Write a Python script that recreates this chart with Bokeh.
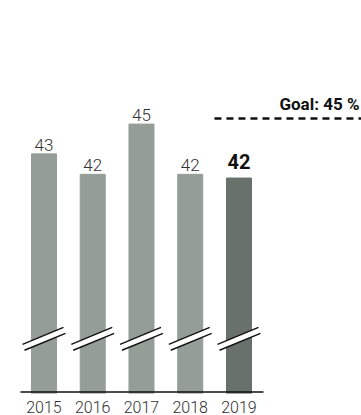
from bokeh.plotting import figure
from bokeh.models import ColumnDataSource, Range1d, FixedTicker
from bokeh.core.properties import value
from bokeh.embed import file_html
from bokeh.resources import INLINE

years = ["2015", "2016", "2017", "2018", "2019"]
values = [43.1, 42.0, 44.7, 42.0, 41.8]
labels = ["43", "42", "45", "42", "42"]
goal = 45
goal_label = "Goal: 45 %"

LIGHT = "#959e96"
DARK = "#68726a"

xs = list(range(len(years)))
colors = [LIGHT] * (len(years) - 1) + [DARK]

y0 = 30.22
p = figure(width=361, height=415, output_backend="svg", toolbar_location=None,
           x_range=Range1d(-0.892, 6.513), y_range=Range1d(y0, y0 + 395 / 18.7),
           min_border_left=0, min_border_right=0, min_border_top=0, min_border_bottom=20)
p.outline_line_color = None
p.grid.visible = False
p.yaxis.visible = False
p.background_fill_color = "white"
p.border_fill_color = "white"

src = ColumnDataSource(dict(x=xs, top=values, color=colors, label=labels))
p.vbar(x="x", top="top", bottom=y0, width=0.513, color="color", source=src)

# axis break marks
base = y0 + 1.5 / 18.7
brk = 33.16
dx, dy, gap, sh = 0.42, 0.455, 0.32, 0.04
px_, py_ = [], []
x0s, y0s, x1s, y1s = [], [], [], []
for x in xs:
    c = x - 0.02
    px_.append([c - dx, c + dx, c + dx + sh, c - dx + sh])
    py_.append([brk + gap / 2 - dy, brk + gap / 2 + dy, brk - gap / 2 + dy, brk - gap / 2 - dy])
    x0s += [c - dx, c - dx + sh]
    y0s += [brk + gap / 2 - dy, brk - gap / 2 - dy]
    x1s += [c + dx, c + dx + sh]
    y1s += [brk + gap / 2 + dy, brk - gap / 2 + dy]
p.patches(px_, py_, color="white", line_color=None)
p.segment(x0s, y0s, x1s, y1s, line_color="#111111", line_width=1.4)

# baseline
p.segment([-0.482], [base], [4.503], [base], line_color="#111111", line_width=1.5)

# value labels
lsrc = ColumnDataSource(dict(x=xs[:-1], y=values[:-1], t=labels[:-1]))
p.text(x="x", y="y", text="t", source=lsrc, text_align="center", text_baseline="bottom",
       y_offset=-3, text_font=value("Roboto Light"), text_font_size="17px", text_color="#333333")
p.text(x=[xs[-1]], y=[values[-1]], text=[labels[-1]], text_align="center", text_baseline="bottom",
       y_offset=-9, text_font=value("Roboto"), text_font_style="bold", text_font_size="20px",
       text_color="#111111")

# goal line
p.segment([3.497], [goal], [6.52], [goal], line_color="#111111", line_width=2.5, line_dash="7 5")
p.text(x=[6.472], y=[goal], text=[goal_label], text_align="right", text_baseline="bottom",
       y_offset=-5, text_font=value("Roboto"), text_font_style="bold", text_font_size="17px",
       text_color="#111111")

# x axis
ax = p.xaxis[0]
ax.ticker = FixedTicker(ticks=xs)
ax.major_label_overrides = {i: y for i, y in enumerate(years)}
ax.axis_line_color = None
ax.major_tick_line_color = None
ax.minor_tick_line_color = None
ax.major_label_standoff = 1
ax.major_label_text_font = "Roboto Light"
ax.major_label_text_font_size = "16px"
ax.major_label_text_color = "#333333"

open("out.html", "w").write(file_html(p, INLINE))
